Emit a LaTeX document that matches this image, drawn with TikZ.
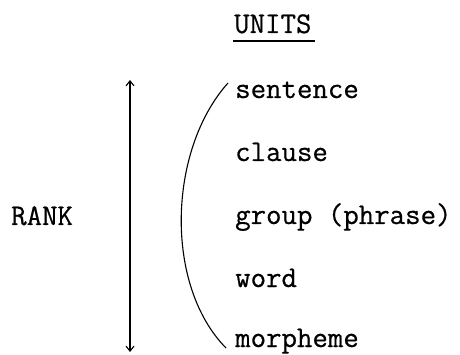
\documentclass[tikz,border=0pt]{standalone}
\usepackage{fontspec}
\setmonofont[FakeBold=0.6]{Latin Modern Mono}
\usetikzlibrary{arrows.meta}
\begin{document}
\begin{tikzpicture}[x=1pt,y=-1pt,
  lbl/.style={anchor=base west,inner sep=0pt,font=\fontsize{30}{36}\ttfamily},
  thin line/.style={line width=1.1pt},
  scale arrow/.style={thin line,{Straight Barb[length=5pt,width=8pt]}-{Straight Barb[length=5pt,width=8pt]}}]
\useasboundingbox (0,0) rectangle (460,355);
% heading
\node[lbl] (units) at (234,33) {UNITS};
\draw[line width=1.3pt] ([xshift=-1pt,yshift=-8pt]units.base west) -- ([xshift=3pt,yshift=-8pt]units.base east);
% the ranked units
\node[lbl] (sent) at (235,98) {sentence};
\node[lbl] (cla)  at (235,161) {clause};
\node[lbl] (grp)  at (235,224) {group (phrase)};
\node[lbl] (wrd)  at (235,287) {word};
\node[lbl] (mor)  at (235,347) {morpheme};
% rank scale
\node[lbl] (rank) at (11,225) {RANK};
\coordinate (top) at (130,80);
\coordinate (bot) at (130,352);
\draw[scale arrow] (top) -- (bot);
% bracket grouping the units
\coordinate (ctop) at (228,83);
\coordinate (cbot) at (226,348);
\draw[thin line] (ctop) .. controls (168,150) and (164,285) .. (cbot);
\end{tikzpicture}
\end{document}
